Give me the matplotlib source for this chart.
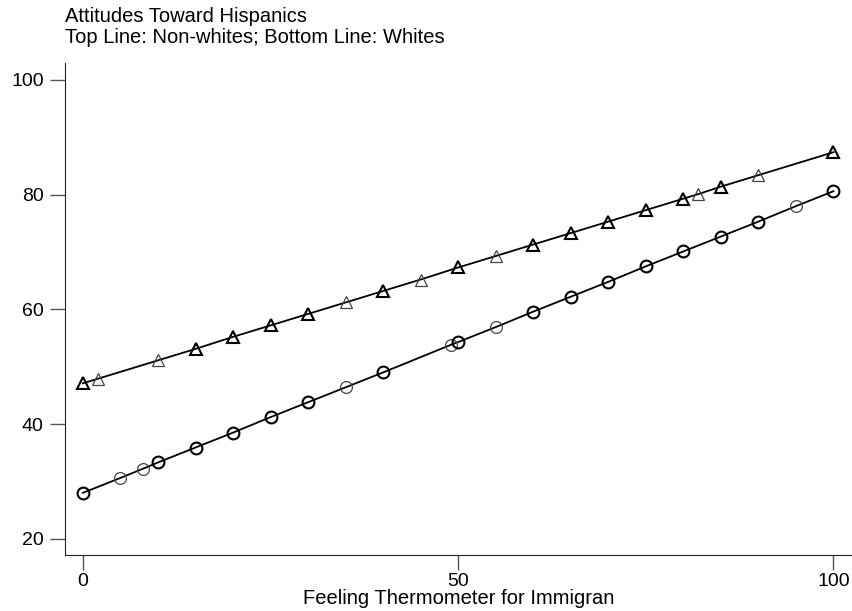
import matplotlib
matplotlib.use('Agg')
import matplotlib.pyplot as plt

plt.rcParams['font.family'] = ['Liberation Sans', 'DejaVu Sans']

# Non-whites (top line, triangles)
x_nonwhite = [0, 2, 10, 15, 20, 25, 30, 35, 40, 45, 50, 55, 60, 65, 70, 75, 80, 82, 85, 90, 100]
y_nonwhite = [47.1, 47.9, 51.1, 53.1, 55.2, 57.2, 59.2, 61.2, 63.2, 65.2, 67.3, 69.3, 71.3, 73.3,
              75.3, 77.3, 79.3, 80.1, 81.4, 83.4, 87.4]
n_nonwhite = [2, 1, 1, 2, 2, 2, 2, 1, 2, 1, 2, 1, 2, 2, 2, 2, 2, 1, 2, 1, 2]

# Whites (bottom line, circles)
x_white = [0, 5, 8, 10, 15, 20, 25, 30, 35, 40, 49, 50, 55, 60, 65, 70, 75, 80, 85, 90, 95, 100]
y_white = [28.0, 30.6, 32.2, 33.3, 35.9, 38.5, 41.2, 43.8, 46.4, 49.0, 53.8, 54.3, 56.9, 59.6,
           62.2, 64.8, 67.5, 70.1, 72.7, 75.3, 78.0, 80.6]
n_white = [2, 1, 1, 2, 2, 2, 2, 2, 1, 2, 1, 2, 1, 2, 2, 2, 2, 2, 2, 2, 1, 2]

fig = plt.figure(figsize=(8.53, 6.11), dpi=100)
ax = fig.add_axes([0.0758, 0.0917, 0.9242, 0.8052])

for xs, ys, ns, mk, ms in [(x_nonwhite, y_nonwhite, n_nonwhite, '^', 9),
                           (x_white, y_white, n_white, 'o', 8.5)]:
    ax.plot(xs, ys, color='black', linewidth=1.3, zorder=2)
    for x, y, n in zip(xs, ys, ns):
        if n > 1:
            ax.plot(x, y, marker=mk, ms=ms, mfc='none', mec='black', mew=1.5, zorder=3)
        else:
            ax.plot(x, y, marker=mk, ms=ms, mfc='none', mec='#444444', mew=0.9, zorder=3)

ax.set_xlim(-2.44, 102.6)
ax.set_ylim(17.16, 102.96)
ax.set_xticks([0, 50, 100])
ax.set_yticks([20, 40, 60, 80, 100])
ax.spines['top'].set_visible(False)
ax.spines['right'].set_visible(False)
for s in ['left', 'bottom']:
    ax.spines[s].set_color('#222222')
ax.tick_params(axis='both', length=11, width=1, labelsize=14, color='#555555')
ax.tick_params(axis='y', pad=4)
ax.tick_params(axis='x', pad=2)
ax.set_xlabel('Feeling Thermometer for Immigran', fontsize=14.5, labelpad=-0.5)

fig.text(0.0762, 0.988, 'Attitudes Toward Hispanics\nTop Line: Non-whites; Bottom Line: Whites',
         ha='left', va='top', fontsize=14.5, linespacing=1.1)

fig.savefig('out.png', dpi=100)
plt.close()
